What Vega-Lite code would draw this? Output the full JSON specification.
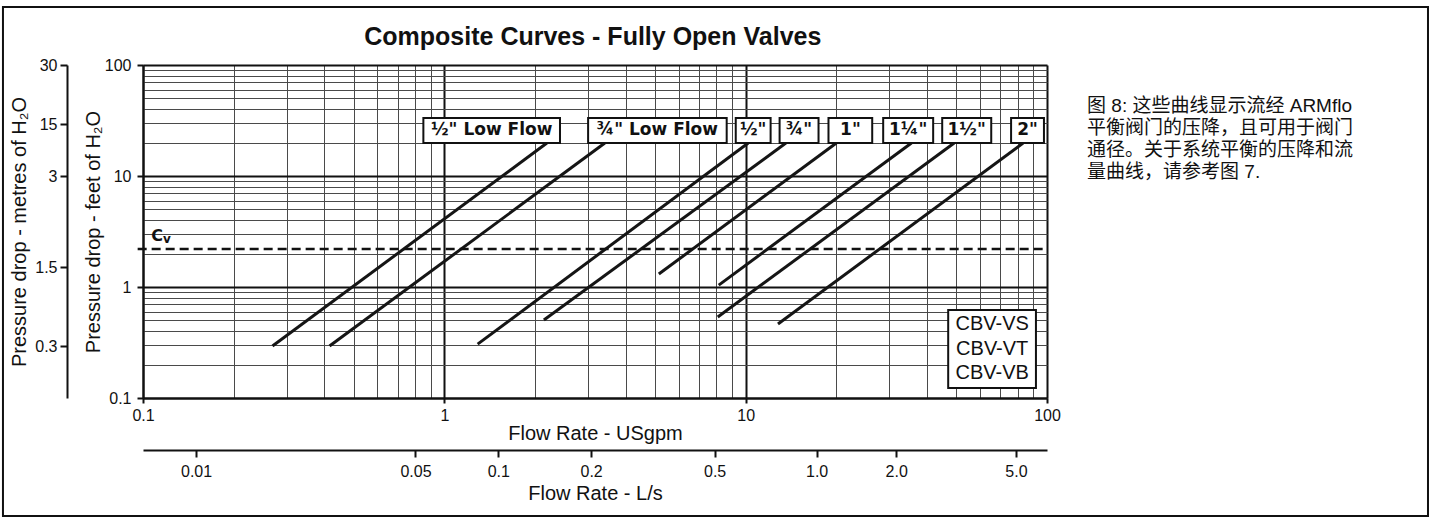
{
  "$schema": "https://vega.github.io/schema/vega-lite/v6.json",
  "width": 904,
  "height": 333,
  "autosize": {"type": "none"},
  "padding": {"left": 143, "top": 65, "right": 386, "bottom": 125},
  "background": "white",
  "config": {
    "view": {"stroke": null},
    "font": "Liberation Sans",
    "axis": {"labelFont": "Liberation Sans", "titleFont": "Liberation Sans", "labelColor": "#111", "titleColor": "#111", "titleFontWeight": "normal", "labelFontSize": 16, "titleFontSize": 20, "domainColor": "#111", "tickColor": "#111", "domainWidth": 2, "tickWidth": 2, "labelOverlap": false, "labelFlush": false, "labelBound": false}
  },
  "datasets": {
    "curves": [
      {"valve": "½\" Low Flow", "q": 0.269, "dp": 0.294},
      {"valve": "½\" Low Flow", "q": 2.19, "dp": 19.8},
      {"valve": "¾\" Low Flow", "q": 0.416, "dp": 0.294},
      {"valve": "¾\" Low Flow", "q": 3.41, "dp": 19.8},
      {"valve": "½\"", "q": 1.29, "dp": 0.306},
      {"valve": "½\"", "q": 10.2, "dp": 19.8},
      {"valve": "¾\"", "q": 2.14, "dp": 0.504},
      {"valve": "¾\"", "q": 13.6, "dp": 19.8},
      {"valve": "1\"", "q": 5.15, "dp": 1.31},
      {"valve": "1\"", "q": 20.0, "dp": 19.8},
      {"valve": "1¼\"", "q": 8.14, "dp": 1.04},
      {"valve": "1¼\"", "q": 35.5, "dp": 19.8},
      {"valve": "1½\"", "q": 8.08, "dp": 0.537},
      {"valve": "1½\"", "q": 49.2, "dp": 19.8},
      {"valve": "2\"", "q": 12.8, "dp": 0.464},
      {"valve": "2\"", "q": 83.3, "dp": 19.8}
    ],
    "tags": [
      {"tag": "½\" Low Flow", "lo": 0.852, "hi": 2.42, "xc": 1.436, "bot": 19.83, "top": 33.3, "mid": 25.7},
      {"tag": "¾\" Low Flow", "lo": 3.0, "hi": 8.65, "xc": 5.09, "bot": 19.83, "top": 33.3, "mid": 25.7},
      {"tag": "½\"", "lo": 9.27, "hi": 12.1, "xc": 10.59, "bot": 19.83, "top": 33.3, "mid": 25.7},
      {"tag": "¾\"", "lo": 12.96, "hi": 17.45, "xc": 15.03, "bot": 19.83, "top": 33.3, "mid": 25.7},
      {"tag": "1\"", "lo": 18.83, "hi": 26.3, "xc": 22.27, "bot": 19.83, "top": 33.3, "mid": 25.7},
      {"tag": "1¼\"", "lo": 28.6, "hi": 41.9, "xc": 34.6, "bot": 19.83, "top": 33.3, "mid": 25.7},
      {"tag": "1½\"", "lo": 44.9, "hi": 65.3, "xc": 54.1, "bot": 19.83, "top": 33.3, "mid": 25.7},
      {"tag": "2\"", "lo": 76.0, "hi": 97.7, "xc": 86.2, "bot": 19.83, "top": 33.3, "mid": 25.7}
    ],
    "legendbox": [{"lo": 47.0, "hi": 91.9, "bot": 0.123, "top": 0.621}],
    "models": [
      {"code": "CBV-VS", "xc": 65.8, "yc": 0.464},
      {"code": "CBV-VT", "xc": 65.8, "yc": 0.276},
      {"code": "CBV-VB", "xc": 65.8, "yc": 0.168}
    ]
  },
  "resolve": {"axis": {"x": "independent", "y": "independent"}},
  "layer": [
    {
      "data": {"name": "curves"},
      "mark": {"type": "line", "stroke": "#151515", "strokeWidth": 3, "strokeCap": "butt"},
      "encoding": {
        "x": {"field": "q", "type": "quantitative", "scale": {"type": "log", "domain": [0.1, 100], "nice": false},
          "axis": {"orient": "bottom", "values": [0.1, 1, 10, 100], "labelExpr": "'' + datum.value", "title": "Flow Rate - USgpm", "grid": true, "gridColor": "#111", "gridWidth": 2, "tickSize": 5, "labelPadding": 4, "titlePadding": 0}},
        "y": {"field": "dp", "type": "quantitative", "scale": {"type": "log", "domain": [0.1, 100], "nice": false},
          "axis": {"orient": "left", "values": [0.1, 1, 10, 100], "labelExpr": "'' + datum.value", "title": "Pressure drop - feet of H₂O", "grid": true, "gridColor": "#111", "gridWidth": 2, "tickSize": 6, "labelPadding": 6, "titlePadding": 1}},
        "detail": {"field": "valve"}
      }
    },
    {
      "data": {"values": [{"cv": 2.2}]},
      "mark": {"type": "rule", "stroke": "#111", "strokeWidth": 2.5, "strokeDash": [9, 5]},
      "encoding": {
        "x": {"datum": 0.096, "type": "quantitative", "scale": {"type": "log", "domain": [0.1, 100], "nice": false},
          "axis": {"orient": "bottom", "values": [0.2, 0.3, 0.4, 0.5, 0.6, 0.7, 0.8, 0.9, 2, 3, 4, 5, 6, 7, 8, 9, 20, 30, 40, 50, 60, 70, 80, 90], "grid": true, "gridColor": "#4a4a4a", "gridWidth": 1, "domain": false, "ticks": false, "labels": false, "title": null}},
        "x2": {"datum": 100},
        "y": {"field": "cv", "type": "quantitative", "scale": {"type": "log", "domain": [0.1, 100], "nice": false},
          "axis": {"orient": "left", "values": [0.2, 0.3, 0.4, 0.5, 0.6, 0.7, 0.8, 0.9, 2, 3, 4, 5, 6, 7, 8, 9, 20, 30, 40, 50, 60, 70, 80, 90], "grid": true, "gridColor": "#4a4a4a", "gridWidth": 1, "domain": false, "ticks": false, "labels": false, "title": null}}
      }
    },
    {
      "data": {"name": "tags"},
      "mark": {"type": "rect", "fill": "white", "stroke": "#111", "strokeWidth": 2},
      "encoding": {
        "x": {"field": "lo", "type": "quantitative", "scale": {"type": "log", "domain": [0.1, 100], "nice": false},
          "axis": {"orient": "bottom", "offset": 52, "values": [0.15, 0.802, 1.51, 3.07, 7.89, 17.2, 31.6, 78.9], "labelExpr": "datum.value < 0.3 ? '0.01' : datum.value < 1 ? '0.05' : datum.value < 2 ? '0.1' : datum.value < 5 ? '0.2' : datum.value < 10 ? '0.5' : datum.value < 25 ? '1.0' : datum.value < 50 ? '2.0' : '5.0'", "title": "Flow Rate - L/s", "grid": false, "tickSize": 7, "labelPadding": 6, "titlePadding": 4}},
        "x2": {"field": "hi"},
        "y": {"field": "bot", "type": "quantitative", "scale": {"type": "log", "domain": [0.1, 100], "nice": false},
          "axis": {"orient": "left", "offset": 76, "values": [100, 29.4, 10, 1.51, 0.294], "labelExpr": "datum.value > 50 ? '30' : datum.value > 20 ? '15' : datum.value > 5 ? '3' : datum.value > 1 ? '1.5' : '0.3'", "title": "Pressure drop - metres of H₂O", "grid": false, "tickSize": 7, "labelPadding": 3, "titlePadding": 5}},
        "y2": {"field": "top"}
      }
    },
    {
      "data": {"name": "tags"},
      "mark": {"type": "text", "font": "DejaVu Sans", "fontWeight": "bold", "fontSize": 17, "color": "#111", "align": "center", "baseline": "middle"},
      "encoding": {
        "x": {"field": "xc", "type": "quantitative", "scale": {"type": "log", "domain": [0.1, 100], "nice": false}, "axis": null},
        "y": {"field": "mid", "type": "quantitative", "scale": {"type": "log", "domain": [0.1, 100], "nice": false}, "axis": null},
        "text": {"field": "tag"}
      }
    },
    {
      "data": {"name": "legendbox"},
      "mark": {"type": "rect", "fill": "white", "stroke": "#111", "strokeWidth": 2},
      "encoding": {
        "x": {"field": "lo", "type": "quantitative", "scale": {"type": "log", "domain": [0.1, 100], "nice": false}, "axis": null},
        "x2": {"field": "hi"},
        "y": {"field": "bot", "type": "quantitative", "scale": {"type": "log", "domain": [0.1, 100], "nice": false}, "axis": null},
        "y2": {"field": "top"}
      }
    },
    {
      "data": {"name": "models"},
      "mark": {"type": "text", "font": "Liberation Sans", "fontSize": 20, "color": "#111", "align": "center", "baseline": "middle"},
      "encoding": {
        "x": {"field": "xc", "type": "quantitative", "scale": {"type": "log", "domain": [0.1, 100], "nice": false}, "axis": null},
        "y": {"field": "yc", "type": "quantitative", "scale": {"type": "log", "domain": [0.1, 100], "nice": false}, "axis": null},
        "text": {"field": "code"}
      }
    },
    {
      "data": {"values": [{"sym": "C"}]},
      "mark": {"type": "text", "font": "DejaVu Sans", "fontWeight": "bold", "fontSize": 16, "color": "#111", "align": "center", "baseline": "middle"},
      "encoding": {
        "x": {"datum": 0.1113, "type": "quantitative", "scale": {"type": "log", "domain": [0.1, 100], "nice": false}, "axis": null},
        "y": {"datum": 2.88, "type": "quantitative", "scale": {"type": "log", "domain": [0.1, 100], "nice": false}, "axis": null},
        "text": {"field": "sym"}
      }
    },
    {
      "data": {"values": [{"sym": "v"}]},
      "mark": {"type": "text", "font": "DejaVu Sans", "fontWeight": "bold", "fontSize": 12, "color": "#111", "align": "left", "baseline": "middle", "dx": 6, "dy": 3},
      "encoding": {
        "x": {"datum": 0.1113, "type": "quantitative", "scale": {"type": "log", "domain": [0.1, 100], "nice": false}, "axis": null},
        "y": {"datum": 2.88, "type": "quantitative", "scale": {"type": "log", "domain": [0.1, 100], "nice": false}, "axis": null},
        "text": {"field": "sym"}
      }
    },
    {
      "data": {"values": [{"t": "Composite Curves - Fully Open Valves"}]},
      "mark": {"type": "text", "font": "Liberation Sans", "fontWeight": "bold", "fontSize": 25, "color": "#111", "align": "center", "baseline": "middle"},
      "encoding": {
        "x": {"datum": 3.11, "type": "quantitative", "scale": {"type": "log", "domain": [0.1, 100], "nice": false}, "axis": null},
        "y": {"datum": 178.8, "type": "quantitative", "scale": {"type": "log", "domain": [0.1, 100], "nice": false}, "axis": null},
        "text": {"field": "t"}
      }
    },
    {
      "data": {"values": [{"lines": ["图 8: 这些曲线显示流经 ARMflo", "平衡阀门的压降，且可用于阀门", "通径。关于系统平衡的压降和流", "量曲线，请参考图 7."]}]},
      "mark": {"type": "text", "font": "Liberation Sans, Noto Sans CJK SC", "fontSize": 19, "lineHeight": 22, "color": "#111", "align": "left", "baseline": "top"},
      "encoding": {
        "x": {"datum": 135.8, "type": "quantitative", "scale": {"type": "log", "domain": [0.1, 100], "nice": false}, "axis": null},
        "y": {"datum": 51.5, "type": "quantitative", "scale": {"type": "log", "domain": [0.1, 100], "nice": false}, "axis": null},
        "text": {"field": "lines"}
      }
    },
    {
      "data": {"values": [{"frame": "outline"}]},
      "mark": {"type": "rect", "fill": "transparent", "stroke": "#111", "strokeWidth": 2},
      "encoding": {
        "x": {"datum": 0.0343, "type": "quantitative", "scale": {"type": "log", "domain": [0.1, 100], "nice": false}, "axis": null},
        "x2": {"datum": 1838},
        "y": {"datum": 333, "type": "quantitative", "scale": {"type": "log", "domain": [0.1, 100], "nice": false}, "axis": null},
        "y2": {"datum": 0.00865}
      }
    }
  ]
}
